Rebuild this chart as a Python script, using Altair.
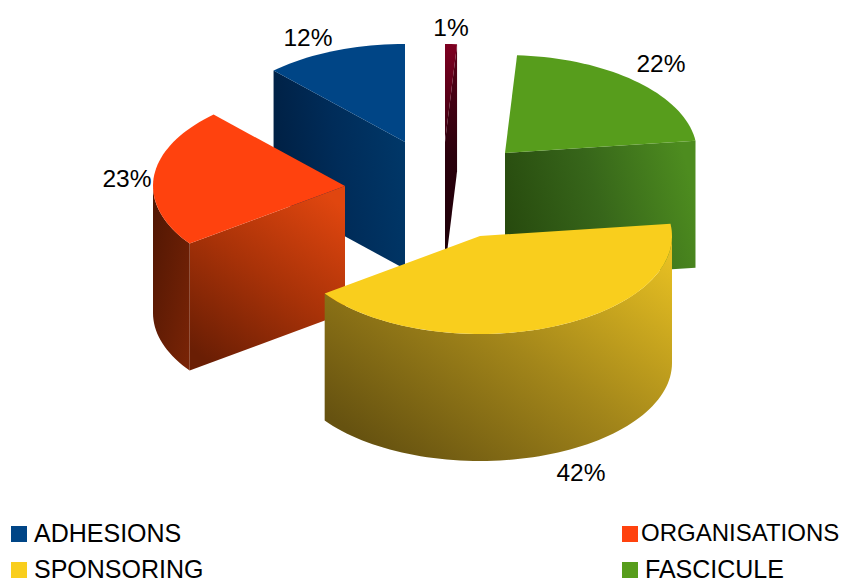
import math
import altair as alt
import pandas as pd

categories = ["ADHESIONS", "ORGANISATIONS", "SPONSORING", "FASCICULE", "DIVERS"]
values = [12, 23, 42, 22, 1]
colors = ["#004586", "#ff420e", "#f9ce1d", "#579d1c", "#7e0021"]
legend_names = categories[:4]

# Layout constants (page pixels)
OFF = 8
RX, RY, DEPTH = 192, 98, 127
APEX = {"ADHESIONS": (405, 142), "ORGANISATIONS": (345, 186), "SPONSORING": (480, 236),
        "FASCICULE": (505, 153), "DIVERS": (445, 142)}
LABEL_POS = {"ADHESIONS": (308, 39), "ORGANISATIONS": (127, 180), "SPONSORING": (581, 474),
             "FASCICULE": (661, 65), "DIVERS": (451, 29)}
LEG_POS = {"ADHESIONS": (19, 534), "ORGANISATIONS": (630, 534),
           "SPONSORING": (19, 570), "FASCICULE": (630, 570)}
LEG_TEXT_X = {"ADHESIONS": 34, "ORGANISATIONS": 641, "SPONSORING": 34, "FASCICULE": 645}
LEG_FONT = {"ADHESIONS": 25, "ORGANISATIONS": 24, "SPONSORING": 25, "FASCICULE": 25}
WALL = {
    "ADHESIONS": (["#001f42", "#002c59", "#003768"], 0, 0.6, 1, 0.4),
    "ORGANISATIONS": (["#6a1e04", "#a83208", "#e0460f"], 0.2, 1, 0.8, 0),
    "SPONSORING": (["#665210", "#a3861a", "#e6bf22"], 0.1, 0.9, 1, 0.1),
    "FASCICULE": (["#274a0e", "#37661a", "#4d8c1f"], 0, 0.6, 1, 0.4),
    "DIVERS": (["#5a0018", "#2a000c", "#1c0008"], 0, 0, 0, 1),
}


def point(name, a, drop=0):
    ax, ay = APEX[name]
    r = math.radians(a)
    return [ax - RX * math.sin(r) - OFF, ay - RY * math.cos(r) + drop - OFF]


def apex(name, drop=0):
    ax, ay = APEX[name]
    return [ax - OFF, ay + drop - OFF]


def feature(ring):
    ring = ring + [ring[0]]
    return {"type": "Feature", "properties": {},
            "geometry": {"type": "Polygon", "coordinates": [ring]}}


def arc(name, a0, a1, drop=0):
    n = max(2, int(abs(a1 - a0) / 2))
    return [point(name, a0 + (a1 - a0) * i / n, drop) for i in range(n + 1)]


projection = alt.Projection(type="identity", scale=1, translate=[0, 0])


def shape(ring, fill):
    return alt.Chart(alt.Data(values=[feature(ring)])).mark_geoshape(
        fill=fill, stroke=None, strokeWidth=0).project(**projection.to_dict())


def gradient(stops, x1, y1, x2, y2):
    n = len(stops) - 1
    return alt.Gradient(gradient="linear", x1=x1, y1=y1, x2=x2, y2=y2,
                        stops=[alt.GradientStop(offset=i / n, color=c) for i, c in enumerate(stops)])


# Angular extents come from the values, running counter-clockwise from 12 o'clock
extent = {}
cum = 0
for c, v in zip(categories, values):
    extent[c] = (cum * 3.6, (cum + v) * 3.6)
    cum += v

layers = []
for name in ["ADHESIONS", "DIVERS", "FASCICULE", "ORGANISATIONS", "SPONSORING"]:
    a0, a1 = extent[name]
    colour = colors[categories.index(name)]
    stops, x1, y1, x2, y2 = WALL[name]
    fill = gradient(stops, x1, y1, x2, y2)
    if a1 < 180:  # end edge faces the viewer
        layers.append(shape([apex(name), point(name, a1), point(name, a1, DEPTH), apex(name, DEPTH)], fill))
    if a0 > 180:  # start edge faces the viewer
        layers.append(shape([apex(name), point(name, a0), point(name, a0, DEPTH), apex(name, DEPTH)], fill))
    lo, hi = max(a0, 90), min(a1, 270)
    if lo < hi:  # outer wall on the front half
        ring = arc(name, lo, hi) + arc(name, hi, lo, DEPTH)
        wall_fill = gradient(["#4f1603", "#7a2406"], 0, 0, 1, 1) if name == "ORGANISATIONS" else fill
        layers.append(shape(ring, wall_fill))
    top_fill = gradient(["#7e0021", "#3a0010"], 0, 0, 0, 1) if name == "DIVERS" else colour
    layers.append(shape([apex(name)] + arc(name, a0, a1), top_fill))

labels = pd.DataFrame({
    "t": [f"{v}%" for v in values],
    "px": [LABEL_POS[c][0] - OFF for c in categories],
    "py": [LABEL_POS[c][1] - OFF for c in categories],
})
text = alt.Chart(labels).mark_text(font="Liberation Sans", fontSize=24.5, color="#000000",
                                   align="center", baseline="middle").encode(
    x=alt.X("px:Q", scale=None, axis=None), y=alt.Y("py:Q", scale=None, axis=None), text="t:N")

legend = pd.DataFrame({
    "t": legend_names,
    "px": [LEG_POS[c][0] - OFF for c in legend_names],
    "py": [LEG_POS[c][1] - OFF for c in legend_names],
    "tx": [LEG_TEXT_X[c] - OFF for c in legend_names],
    "fs": [LEG_FONT[c] for c in legend_names],
    "c": colors[:4],
})
swatch = alt.Chart(legend).mark_square(size=256, opacity=1, filled=True).encode(
    x=alt.X("px:Q", scale=None, axis=None), y=alt.Y("py:Q", scale=None, axis=None),
    color=alt.Color("c:N", scale=None))
legend_text = alt.Chart(legend).mark_text(font="Liberation Sans", color="#000000",
                                          align="left", baseline="middle").encode(
    x=alt.X("tx:Q", scale=None, axis=None), y=alt.Y("py:Q", scale=None, axis=None), text="t:N",
    size=alt.Size("fs:Q", scale=None, legend=None))

chart = alt.layer(*layers, text, swatch, legend_text).properties(
    width=839, height=574, padding=0, autosize=alt.AutoSizeParams(type="none")
).configure_view(stroke=None)

chart.save("out.html", embed_options={"renderer": "svg", "actions": False})
